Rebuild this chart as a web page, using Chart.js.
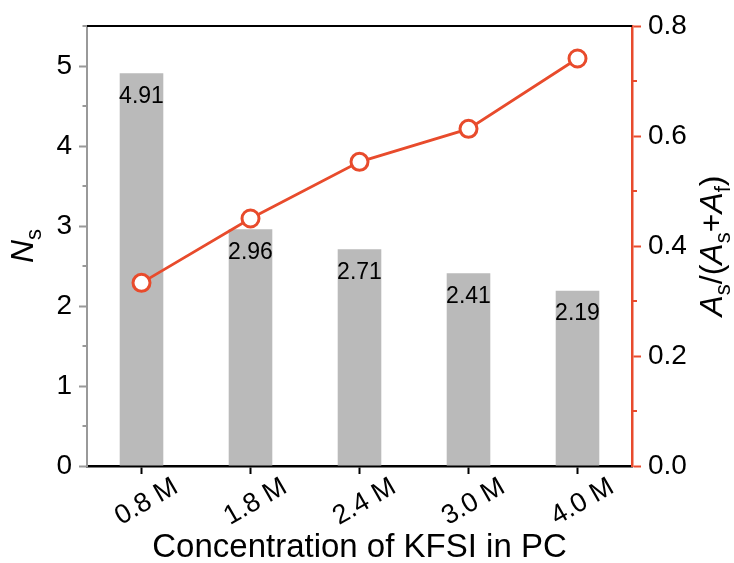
<!DOCTYPE html>
<html>
<head>
<meta charset="utf-8">
<script src="https://cdn.jsdelivr.net/npm/chart.js"></script>
<style>
    html, body { margin: 0; padding: 0; background: #fff; }
</style>
</head>
<body>
<canvas id="kfsiChart" width="734" height="563"></canvas>
<script>
// data
const concentrations = ['0.8 M', '1.8 M', '2.4 M', '3.0 M', '4.0 M'];
const nsValues = [4.91, 2.96, 2.71, 2.41, 2.19];
const areaRatio = [0.333, 0.450, 0.553, 0.613, 0.741];
const leftTicks = [0, 1, 2, 3, 4, 5];
const leftMinorTicks = [0.5, 1.5, 2.5, 3.5, 4.5, 5.5];
const rightTicks = [0, 0.2, 0.4, 0.6, 0.8];
const rightMinorTicks = [0.1, 0.3, 0.5, 0.7];

const FONT = "'Liberation Sans', Arial, sans-serif";
const RED = '#e84b2c';
const BAR_GREY = '#bababa';

// draws text with italic letters and subscripts, centred on (x, y) baseline
function drawRich(ctx, parts, x, y, angle, size) {
    const subSize = Math.round(size * 0.7);
    const fontOf = p => (p.italic ? 'italic ' : '') + (p.sub ? subSize : size) + 'px ' + FONT;
    ctx.save();
    ctx.translate(x, y);
    ctx.rotate(angle);
    ctx.fillStyle = '#000';
    ctx.textAlign = 'left';
    ctx.textBaseline = 'alphabetic';
    let total = 0;
    parts.forEach(p => { ctx.font = fontOf(p); total += ctx.measureText(p.text).width; });
    let cx = -total / 2;
    parts.forEach(p => {
        ctx.font = fontOf(p);
        ctx.fillText(p.text, cx, p.sub ? size * 0.25 : 0);
        cx += ctx.measureText(p.text).width;
    });
    ctx.restore();
}

const decorPlugin = {
    id: 'decor',
    afterDatasetsDraw(chart) {
        const ctx = chart.ctx;
        const meta = chart.getDatasetMeta(0);
        ctx.save();
        ctx.font = '23px ' + FONT;
        ctx.fillStyle = '#000';
        ctx.textAlign = 'center';
        ctx.textBaseline = 'middle';
        meta.data.forEach((bar, i) => {
            ctx.fillText(nsValues[i].toFixed(2), bar.x, bar.y + 23);
        });
        ctx.restore();
    },
    afterDraw(chart) {
        const ctx = chart.ctx;
        const area = chart.chartArea;
        const xs = chart.scales.x, yl = chart.scales.y, yr = chart.scales.y2;

        ctx.save();
        // top frame line
        ctx.strokeStyle = '#000';
        ctx.lineWidth = 2;
        ctx.beginPath();
        ctx.moveTo(area.left - 4, area.top);
        ctx.lineTo(area.right, area.top);
        ctx.stroke();

        // minor ticks
        ctx.strokeStyle = '#999';
        leftMinorTicks.forEach(v => {
            const py = yl.getPixelForValue(v);
            ctx.beginPath();
            ctx.moveTo(area.left - 4.5, py);
            ctx.lineTo(area.left, py);
            ctx.stroke();
        });
        ctx.strokeStyle = RED;
        rightMinorTicks.forEach(v => {
            const py = yr.getPixelForValue(v);
            ctx.beginPath();
            ctx.moveTo(area.right, py);
            ctx.lineTo(area.right + 5, py);
            ctx.stroke();
        });

        // rotated category labels, centred under each tick
        ctx.font = '27px ' + FONT;
        ctx.fillStyle = '#000';
        ctx.textAlign = 'center';
        ctx.textBaseline = 'middle';
        concentrations.forEach((lab, i) => {
            const px = xs.getPixelForValue(i);
            ctx.save();
            ctx.translate(px + 5, area.bottom + 36);
            ctx.rotate(-Math.PI / 6);
            ctx.fillText(lab, 0, 0);
            ctx.restore();
        });
        ctx.restore();

        const midY = (area.top + area.bottom) / 2;
        drawRich(ctx, [
            { text: 'N', italic: true },
            { text: 's', sub: true }
        ], 33, midY, -Math.PI / 2, 32);
        drawRich(ctx, [
            { text: 'A', italic: true },
            { text: 's', sub: true },
            { text: '/(' },
            { text: 'A', italic: true },
            { text: 's', sub: true },
            { text: '+' },
            { text: 'A', italic: true },
            { text: 'f', sub: true },
            { text: ')' }
        ], 722, midY, -Math.PI / 2, 32);
    }
};

new Chart(document.getElementById('kfsiChart'), {
    type: 'bar',
    data: {
        labels: concentrations,
        datasets: [
            {
                type: 'bar',
                label: 'Ns',
                data: nsValues,
                backgroundColor: BAR_GREY,
                barPercentage: 0.4,
                categoryPercentage: 1,
                yAxisID: 'y',
                order: 2
            },
            {
                type: 'line',
                label: 'As/(As+Af)',
                data: areaRatio,
                yAxisID: 'y2',
                borderColor: RED,
                borderWidth: 2.8,
                pointRadius: 8.5,
                pointBorderWidth: 3,
                pointBorderColor: RED,
                pointBackgroundColor: '#fff',
                tension: 0,
                order: 1
            }
        ]
    },
    options: {
        responsive: false,
        animation: false,
        devicePixelRatio: 1,
        layout: { padding: { top: 26, left: 0, right: 0, bottom: 0 } },
        scales: {
            x: {
                grid: {
                    offset: false,
                    drawOnChartArea: false,
                    tickLength: 8,
                    tickColor: '#000',
                    tickWidth: 2
                },
                border: { color: '#000', width: 2.5 },
                ticks: { display: false },
                title: {
                    display: true,
                    text: 'Concentration of KFSI in PC',
                    color: '#000',
                    font: { size: 33, family: FONT },
                    padding: { top: 0, bottom: -5 }
                },
                afterFit(scale) { scale.height = 97; }
            },
            y: {
                position: 'left',
                min: 0,
                max: 5.5,
                afterBuildTicks(scale) { scale.ticks = leftTicks.map(v => ({ value: v })); },
                grid: {
                    drawOnChartArea: false,
                    tickLength: 8,
                    tickColor: '#999',
                    tickWidth: 2
                },
                border: { color: '#999', width: 2 },
                ticks: {
                    color: '#000',
                    padding: 7,
                    font: { size: 28, family: FONT }
                },
                afterFit(scale) { scale.width = 87; }
            },
            y2: {
                position: 'right',
                min: 0,
                max: 0.8,
                afterBuildTicks(scale) { scale.ticks = rightTicks.map(v => ({ value: v })); },
                grid: {
                    drawOnChartArea: false,
                    tickLength: 9,
                    tickColor: RED,
                    tickWidth: 2
                },
                border: { color: RED, width: 2.5 },
                ticks: {
                    color: '#000',
                    padding: 7,
                    font: { size: 28, family: FONT },
                    callback: v => v.toFixed(1)
                },
                afterFit(scale) { scale.width = 102; }
            }
        },
        plugins: {
            legend: { display: false },
            tooltip: { enabled: false }
        }
    },
    plugins: [decorPlugin]
});
</script>
</body>
</html>
